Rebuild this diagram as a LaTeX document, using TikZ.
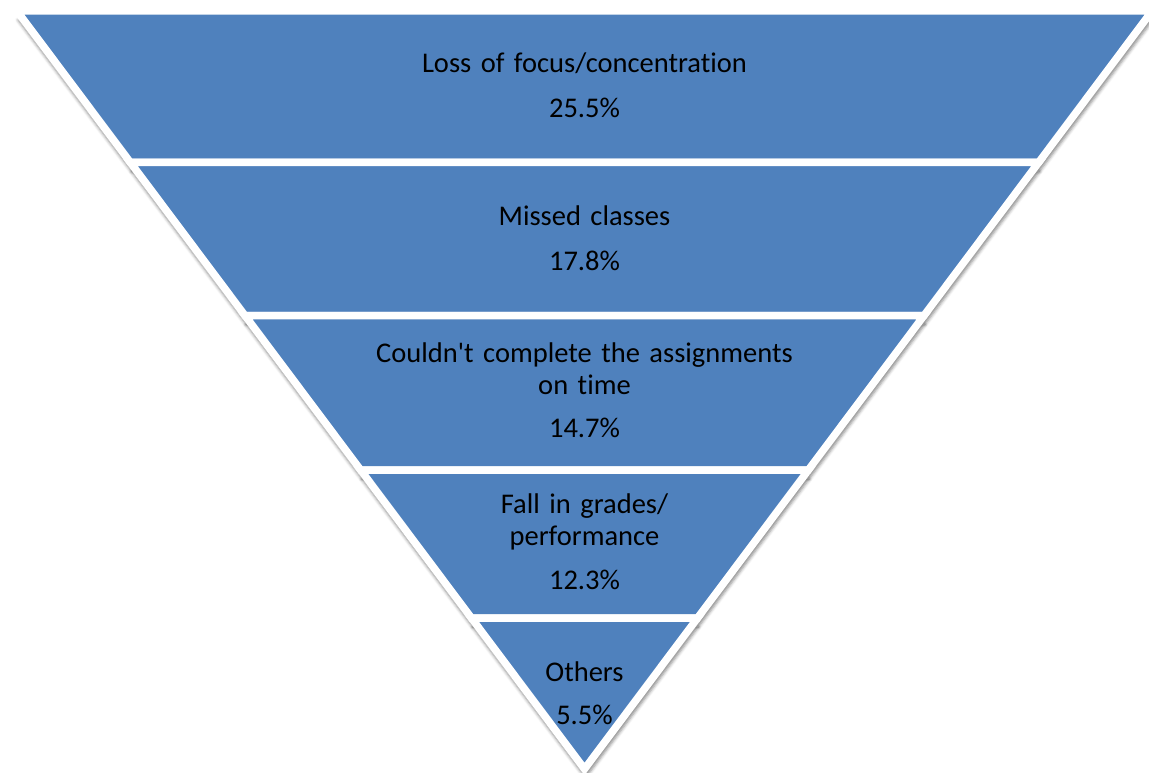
\documentclass[tikz,border=0pt]{standalone}
\usepackage{fontspec}
\setmainfont{Carlito}[Ligatures={TeXOff,NoCommon}]
\usetikzlibrary{shadows.blur}
\definecolor{bandblue}{HTML}{4F81BD}
\tikzset{
  band/.style={fill=bandblue, draw=white, line width=7.5pt, line join=miter,
    blur shadow={shadow xshift=1pt, shadow yshift=-9pt, shadow blur radius=3pt, shadow opacity=45}},
  lbl/.style={text width=520pt, align=center, anchor=base, inner sep=0pt,
    font=\fontsize{28.5}{32}\selectfont, text=black},
  val/.style={anchor=base, inner sep=0pt, font=\fontsize{28.5}{32}\selectfont, text=black}
}
\begin{document}
\begin{tikzpicture}[x=1pt,y=-1pt]
\useasboundingbox (0,0) rectangle (1149,773);
% bands (y grows downward)
\path[band] (17,11) -- (1152,11) -- (1038.57,162.5) -- (130.43,162.5) -- cycle;
\path[band] (130.43,162.5) -- (1038.57,162.5) -- (924.03,315.5) -- (244.97,315.5) -- cycle;
\path[band] (244.97,315.5) -- (924.03,315.5) -- (808.36,470) -- (360.64,470) -- cycle;
\path[band] (360.64,470) -- (808.36,470) -- (697.55,618) -- (471.45,618) -- cycle;
\path[band] (471.45,618) -- (697.55,618) -- (584.5,769) -- cycle;
% texts
\node[lbl] (l1) at (584.5,72.7) {Loss of focus/concentration};
\node[val] (v1) at (584.5,117.3) {25.5\%};
\node[lbl] (l2) at (584.5,225.9) {Missed classes};
\node[val] (v2) at (584.5,270.6) {17.8\%};
\node[lbl] (l3) at (584.5,362.2) {Couldn't complete the assignments\\on time};
\node[val] (v3) at (584.5,437.8) {14.7\%};
\node[lbl] (l4) at (584.5,513.3) {Fall in grades/\\performance};
\node[val] (v4) at (584.5,589.9) {12.3\%};
\node[lbl] (l5) at (584.5,681.6) {Others};
\node[val] (v5) at (584.5,724.5) {5.5\%};
\end{tikzpicture}
\end{document}
